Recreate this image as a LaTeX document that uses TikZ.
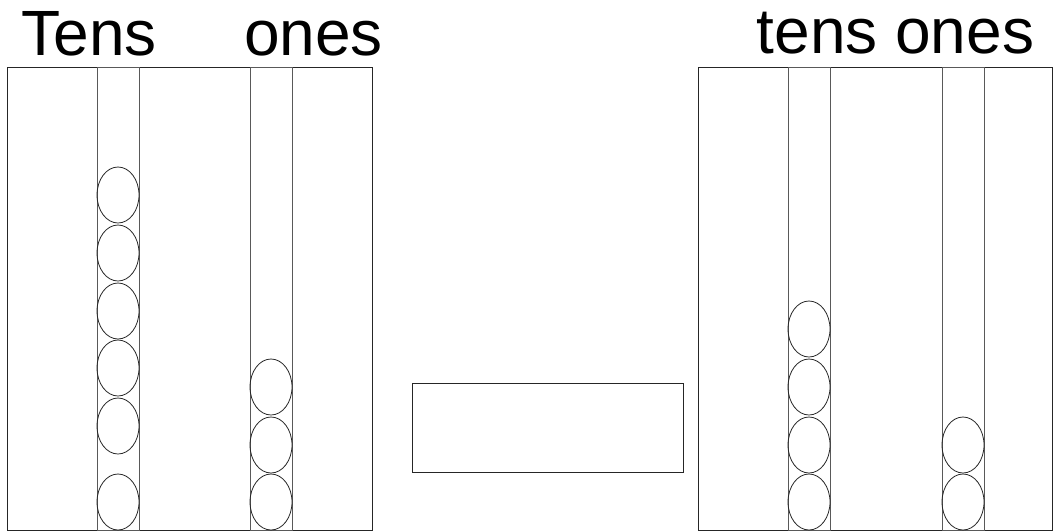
\documentclass[tikz,border=0pt]{standalone}
\usepackage{fontspec}
\setmainfont{Liberation Sans}
\usetikzlibrary{shapes.geometric}

\begin{document}
\begin{tikzpicture}[
  x=1pt, y=-1pt,
  frame/.style={draw=black!85, line width=0.9pt},
  rod/.style={draw=black!65, line width=0.9pt},
  bead/.style={draw=black!85, line width=0.8pt, ellipse, inner sep=0pt,
               minimum width=42pt, minimum height=56pt},
  colhead/.style={font=\fontsize{64}{70}\selectfont, inner sep=0pt,
                  anchor=base west},
]
\useasboundingbox (0,0) rectangle (1053,531);

% headings
\node[colhead] (tensL) at (21.5,55) {Tens};
\node[colhead] (onesL) at (244,55.5) {ones};
\node[colhead] (placeR) at (756.5,53.5) {tens ones};

% left abacus
\draw[frame] (7.5,67.5) rectangle (372.5,530);
\draw[rod] (97.5,67.5) rectangle (139,530);
\draw[rod] (250.5,67.5) rectangle (292,530);
\foreach \y [count=\i] in {195,253,311,368,426,502}
  \node[bead] (lt\i) at (118,\y) {};
\foreach \y [count=\i] in {387,445,502}
  \node[bead] (lo\i) at (271,\y) {};

% answer box
\draw[frame] (412.5,383.5) rectangle (683,472);

% right abacus
\draw[frame] (698,67.5) rectangle (1052.5,530);
\draw[rod] (788,67.5) rectangle (830,530);
\draw[rod] (942,67.5) rectangle (984,530);
\foreach \y [count=\i] in {329,387,445,502}
  \node[bead] (rt\i) at (809,\y) {};
\foreach \y [count=\i] in {445,502}
  \node[bead] (ro\i) at (963,\y) {};
\end{tikzpicture}
\end{document}
